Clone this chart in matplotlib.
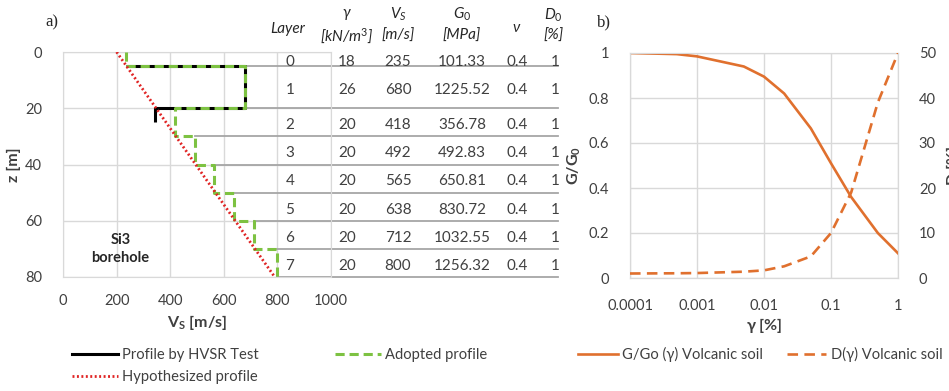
import math
import matplotlib
matplotlib.use('Agg')
import matplotlib.pyplot as plt
from matplotlib import font_manager as fm
from matplotlib.lines import Line2D
from matplotlib.ticker import FixedLocator, FuncFormatter

# ---------------- fonts ----------------
_names = {f.name for f in fm.fontManager.ttflist}
FONT = next(f for f in ['Liberation Sans Narrow', 'Lato', 'Open Sans', 'DejaVu Sans'] if f in _names)
plt.rcParams['font.family'] = [FONT, 'DejaVu Sans']
plt.rcParams['mathtext.fontset'] = 'custom'
plt.rcParams['mathtext.rm'] = FONT
plt.rcParams['mathtext.it'] = FONT + ':italic'
plt.rcParams['mathtext.bf'] = FONT + ':bold'

# ---------------- data ----------------
layer_ids = [0, 1, 2, 3, 4, 5, 6, 7]
layer_top = [0, 5, 20, 30, 40, 50, 60, 70]
layer_bot = [5, 20, 30, 40, 50, 60, 70, 80]
unit_weight = [18, 26, 20, 20, 20, 20, 20, 20]
vs_adopted = [235, 680, 418, 492, 565, 638, 712, 800]
g0_mpa = [101.33, 1225.52, 356.78, 492.83, 650.81, 830.72, 1032.55, 1256.32]
poisson = [0.4, 0.4, 0.4, 0.4, 0.4, 0.4, 0.4, 0.4]
d0_pct = [1, 1, 1, 1, 1, 1, 1, 1]

hvsr_depth = [5, 5, 20, 20, 25]
hvsr_vs = [235, 680, 680, 345, 345]
hypo_depth = [0, 80]
hypo_vs = [200, 790]

strain = [0.0001, 0.0005, 0.001, 0.005, 0.01, 0.02, 0.05, 0.1, 0.2, 0.5, 1]
g_ratio = [1.0, 0.995, 0.985, 0.94, 0.895, 0.82, 0.665, 0.51, 0.36, 0.20, 0.11]
damping = [1.0, 1.05, 1.1, 1.4, 1.7, 2.6, 4.8, 10, 19, 39, 50]

vs_ticks = [0, 200, 400, 600, 800, 1000]
z_ticks = [0, 20, 40, 60, 80]
g_ticks = [0, 0.2, 0.4, 0.6, 0.8, 1]
d_ticks = [0, 10, 20, 30, 40, 50]
strain_ticks = [0.0001, 0.001, 0.01, 0.1, 1]

# ---------------- style ----------------
W, H = 949, 391
GRID = '#d9d9d9'
TXT = '#404040'
GREEN = '#7dc242'
RED = '#e02424'
ORANGE = '#e0702e'
TABLE_LINE = '#a6a6a6'
TICK_FS = 10
LAB_FS = 11.5
LEG_FS = 10.6

fig = plt.figure(figsize=(W / 100, H / 100), dpi=100)


def box(x0, y0, x1, y1):
    return [x0 / W, 1 - y1 / H, (x1 - x0) / W, (y1 - y0) / H]


def strain_fmt(v, p):
    if v <= 0:
        return ''
    dec = max(0, -int(round(math.log10(v))))
    return f'{v:.{dec}f}'


# ================= panel a =================
ax = fig.add_axes(box(63, 52, 331, 277))
ax.set_xlim(0, 1000)
ax.set_ylim(80, 0)
ax.xaxis.set_major_locator(FixedLocator(vs_ticks))
ax.yaxis.set_major_locator(FixedLocator(z_ticks))
ax.grid(True, color=GRID, lw=1)
ax.set_axisbelow(True)
for s in ax.spines.values():
    s.set_color(GRID)
ax.tick_params(length=0, labelsize=TICK_FS + 0.5, colors=TXT, pad=12)
ax.tick_params(axis='y', pad=15)

# adopted step profile
ad_x, ad_z = [], []
for v, t, b in zip(vs_adopted, layer_top, layer_bot):
    ad_x += [v, v]
    ad_z += [t, b]
ax.plot(hvsr_vs, hvsr_depth, color='black', lw=2.2, solid_capstyle='butt', zorder=3)
ax.plot(ad_x, ad_z, color=GREEN, lw=2.2, dashes=(3, 1.6), zorder=4, clip_on=False)
ax.plot(hypo_vs, hypo_depth, color=RED, lw=2.0, dashes=(0.7, 0.9), zorder=5)

ax.set_xlabel('V$_\\mathregular{S}$ [m/s]', fontsize=LAB_FS, fontweight='bold', color=TXT, labelpad=4)
ax.set_ylabel('z [m]', fontsize=LAB_FS, fontweight='bold', color=TXT, labelpad=3)

ax.text(215, 70, 'Si3\nborehole', ha='center', va='center', fontsize=TICK_FS + 0.5,
        fontweight='bold', color='#262626', linespacing=1.3)

# table
col_layer, col_gam, col_vs, col_g0, col_nu, col_d0 = 847, 1060, 1250, 1489, 1694, 1835
table_end = 1847
for i, zb in enumerate(layer_bot):
    upper = vs_adopted[i]
    lower = vs_adopted[i + 1] if i + 1 < len(vs_adopted) else vs_adopted[i]
    ax.plot([max(upper, lower), table_end], [zb, zb], color=TABLE_LINE, lw=1.3,
            clip_on=False, zorder=2)

for i in range(len(layer_ids)):
    zc = (layer_top[i] + layer_bot[i]) / 2 + 1.0
    kw = dict(ha='center', va='center', fontsize=TICK_FS + 1, color=TXT, clip_on=False)
    ax.text(col_layer, zc, f'{layer_ids[i]}', **kw)
    ax.text(col_gam, zc, f'{unit_weight[i]}', **kw)
    ax.text(col_vs, zc, f'{vs_adopted[i]}', **kw)
    ax.text(col_g0, zc, f'{g0_mpa[i]:.2f}', **kw)
    ax.text(col_nu, zc, f'{poisson[i]}', **kw)
    ax.text(col_d0, zc, f'{d0_pct[i]}', **kw)

hk = dict(ha='center', va='center', fontsize=11, color='#262626', style='italic',
          clip_on=False)
ax.text(col_layer - 8, -8.2, 'Layer', **hk)
ax.text(col_gam, -13.4, '$\\mathit{\\gamma}$', **hk)
ax.text(col_gam, -5.7, '[kN/m$^\\mathit{3}$]', **hk)
ax.text(col_vs, -13.4, '$\\mathit{V}_\\mathit{S}$', **hk)
ax.text(col_vs, -5.7, '[m/s]', **hk)
ax.text(col_g0, -13.4, '$\\mathit{G}_\\mathit{0}$', **hk)
ax.text(col_g0, -5.7, '[MPa]', **hk)
ax.text(col_nu, -8.5, '$\\mathit{\\nu}$', **hk)
ax.text(col_d0 - 5, -13.0, '$\\mathit{D}_\\mathit{0}$', **hk)
ax.text(col_d0 - 5, -5.7, '[%]', **hk)

fig.text(52 / W, 1 - 22 / H, 'a)', family=['Liberation Serif', 'DejaVu Serif'],
         fontsize=12, ha='center', va='center', color='#262626')

# legend a
h_hvsr = Line2D([], [], color='black', lw=2.2)
h_hypo = Line2D([], [], color=RED, lw=2.0, dashes=(0.7, 0.9))
h_adop = Line2D([], [], color=GREEN, lw=2.2, dashes=(3, 1.6))
fig.legend([h_hvsr, h_hypo, h_adop],
           ['Profile by HVSR Test', 'Hypothesized profile', 'Adopted profile'],
           loc='upper left', bbox_to_anchor=(72 / W, 1 - 348 / H), ncol=2,
           frameon=False, fontsize=LEG_FS, handlelength=3.1, handletextpad=0.3,
           columnspacing=5.2, borderpad=0, borderaxespad=0, labelspacing=0.55,
           labelcolor=TXT)

# ================= panel b =================
bx = fig.add_axes(box(630, 53, 898, 278))
bx.set_xscale('log')
bx.set_xlim(0.0001, 1)
bx.set_ylim(0, 1)
bx.xaxis.set_major_locator(FixedLocator(strain_ticks))
bx.xaxis.set_minor_locator(FixedLocator([]))
bx.xaxis.set_major_formatter(FuncFormatter(strain_fmt))
bx.yaxis.set_major_locator(FixedLocator(g_ticks))
bx.yaxis.set_major_formatter(FuncFormatter(lambda v, p: f'{v:g}'))
bx.grid(True, color=GRID, lw=1)
bx.set_axisbelow(True)
for s in bx.spines.values():
    s.set_color(GRID)
bx.tick_params(length=0, labelsize=TICK_FS + 0.5, colors=TXT, pad=15)
bx.tick_params(axis='y', pad=15)
bx.plot(strain, g_ratio, color=ORANGE, lw=1.9, zorder=3)
bx.set_xlabel('$\\mathbf{\\gamma}$ [%]', fontsize=LAB_FS, fontweight='bold', color=TXT, labelpad=2)
bx.set_ylabel('G/G$_\\mathbf{0}$', fontsize=LAB_FS, fontweight='bold', color=TXT, labelpad=4)

bx2 = bx.twinx()
bx2.set_ylim(0, 50)
bx2.yaxis.set_major_locator(FixedLocator(d_ticks))
bx2.yaxis.set_major_formatter(FuncFormatter(lambda v, p: f'{v:g}'))
for s in bx2.spines.values():
    s.set_color(GRID)
bx2.tick_params(length=0, labelsize=TICK_FS + 0.5, colors=TXT, pad=15)
bx2.plot(strain, damping, color=ORANGE, lw=1.9, dashes=(4, 2.4), zorder=3)
bx2.set_ylabel('D [%]', fontsize=LAB_FS, fontweight='bold', color=TXT, labelpad=8)

fig.text(604 / W, 1 - 22 / H, 'b)', family=['Liberation Serif', 'DejaVu Serif'],
         fontsize=12, ha='center', va='center', color='#262626')

h_g = Line2D([], [], color=ORANGE, lw=1.9)
h_d = Line2D([], [], color=ORANGE, lw=1.9, dashes=(4, 2.4))
fig.legend([h_g, h_d], ['G/Go (\u03b3) Volcanic soil', 'D(\u03b3) Volcanic soil'],
           loc='upper left', bbox_to_anchor=(578 / W, 1 - 347 / H), ncol=2,
           frameon=False, fontsize=LEG_FS, handlelength=2.7, handletextpad=0.3,
           columnspacing=1.6, borderpad=0, borderaxespad=0, labelcolor=TXT)

fig.savefig('out.png', dpi=100)
